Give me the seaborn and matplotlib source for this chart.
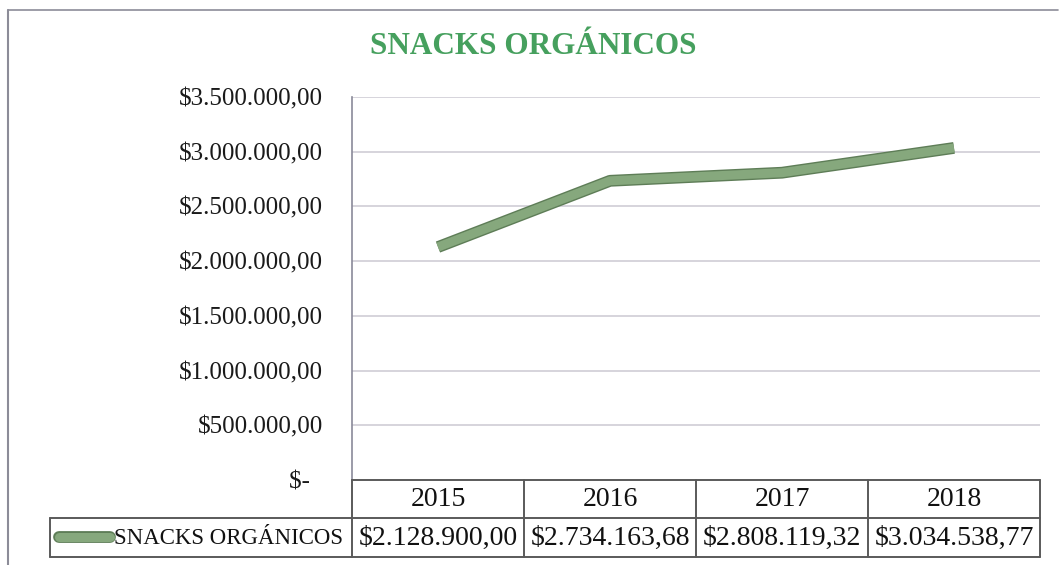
import matplotlib
matplotlib.use("Agg")
import matplotlib.pyplot as plt
import matplotlib.patheffects as pe
from matplotlib.lines import Line2D
from matplotlib.transforms import blended_transform_factory
import seaborn as sns
import pandas as pd

# ---- data ----
title = "SNACKS ORGÁNICOS"
series_name = "SNACKS ORGÁNICOS"
years = ["2015", "2016", "2017", "2018"]
values = [2128900.00, 2734163.68, 2808119.32, 3034538.77]
y_ticks = [0, 500000, 1000000, 1500000, 2000000, 2500000, 3000000, 3500000]

def money(v, zero="$-"):
    if v == 0:
        return zero
    s = f"{v:,.2f}"
    s = s.replace(",", "X").replace(".", ",").replace("X", ".")
    return "$" + s

sns.set_theme(style="white")
plt.rcParams["font.family"] = ["Liberation Serif", "DejaVu Serif"]

W, H = 1064, 565
fig = plt.figure(figsize=(W / 100, H / 100), dpi=100)
fig.patch.set_facecolor("white")

def fx(x):
    return x / W

def fy(y):
    return 1 - y / H

ax = fig.add_axes([fx(352), fy(480), fx(1040) - fx(352), fy(97) - fy(480)])

line_col = "#86a87d"
edge_col = "#5e7d57"
df = pd.DataFrame({"year": years, "value": values})
sns.lineplot(data=df, x="year", y="value", ax=ax, color=line_col, lw=6.5,
             solid_capstyle="butt", solid_joinstyle="round",
             path_effects=[pe.Stroke(linewidth=8.5, foreground=edge_col), pe.Normal()])

ax.set_xlim(-0.5, len(years) - 0.5)
ax.set_ylim(0, 3500000)
ax.set_yticks(y_ticks)
ax.set_yticklabels([money(v, zero="$-  ") for v in y_ticks], fontsize=18,
                   color="#1a1a1a")
ax.set_xticks([])
ax.set_xlabel("")
ax.set_ylabel("")
ax.tick_params(axis="y", length=0, pad=21)
ax.grid(axis="y", color="#cbc9d2", lw=1.1)
for s in ["top", "right", "bottom"]:
    ax.spines[s].set_visible(False)
ax.spines["left"].set_color("#8a8a99")
ax.spines["left"].set_linewidth(1.2)

fig.text(fx(533), fy(47), title, ha="center", va="center", fontsize=22.5,
         fontweight="bold", color="#46a05e")

# ---- outer border ----
bc = "#8c8c98"
fig.add_artist(Line2D([fx(8), fx(8)], [fy(10), fy(565)], color=bc, lw=1.5))
fig.add_artist(Line2D([fx(8), fx(1058)], [fy(10), fy(10)], color=bc, lw=1.2))

# ---- data table ----
tc = "#5a5a5a"
lw = 1.4
bx = [352, 524, 696, 868, 1040]
y0, y1, y2 = 480, 518, 557
def hline(xa, xb, y):
    fig.add_artist(Line2D([fx(xa), fx(xb)], [fy(y), fy(y)], color=tc, lw=lw))
def vline(x, ya, yb, c=tc):
    fig.add_artist(Line2D([fx(x), fx(x)], [fy(ya), fy(yb)], color=c, lw=lw))

hline(352, 1040, y0)
hline(50, 1040, y1)
hline(50, 1040, y2)
vline(50, y1, y2)
vline(352, y0, y2)
for x in bx[1:]:
    vline(x, y0, y2)

bt = blended_transform_factory(ax.transData, fig.transFigure)
for i, (yr, v) in enumerate(zip(years, values)):
    fig.text(i, fy((y0 + y1) / 2 + 1), yr, transform=bt, ha="center", va="center",
             fontsize=20, color="#111111")
    fig.text(i, fy((y1 + y2) / 2 + 1), money(v), transform=bt, ha="center",
             va="center", fontsize=20, color="#111111")

fig.add_artist(Line2D([fx(59), fx(110)], [fy(537), fy(537)], color=line_col,
                      lw=6.5, solid_capstyle="round",
                      path_effects=[pe.Stroke(linewidth=8.5, foreground=edge_col), pe.Normal()]))
fig.text(fx(114), fy(538), series_name, ha="left", va="center", fontsize=16.5,
         color="#111111")

fig.savefig("out.png", dpi=100, facecolor="white")
